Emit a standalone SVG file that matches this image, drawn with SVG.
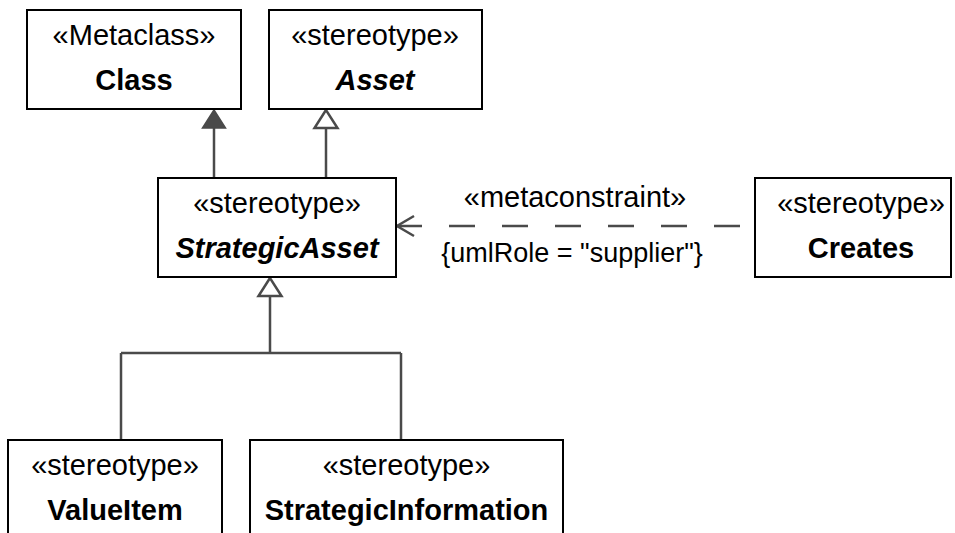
<svg xmlns="http://www.w3.org/2000/svg" width="955" height="533" viewBox="0 0 955 533">
<style>
.box{fill:#fff;stroke:#000;stroke-width:2}
.st{font-family:"Liberation Sans",Arial,sans-serif;font-size:29px;fill:#000;text-anchor:middle}
.nm{font-family:"Liberation Sans",Arial,sans-serif;font-size:29px;font-weight:bold;fill:#000;text-anchor:middle}
.ab{font-style:italic}
.lbl{font-size:27px}
.ln{fill:none;stroke:#4a4a4a;stroke-width:2.5}
.hol{fill:#fff;stroke:#4a4a4a;stroke-width:2.5;stroke-linejoin:miter}
.fil{fill:#4a4a4a;stroke:#4a4a4a;stroke-width:1.5}
</style>
<rect width="955" height="533" fill="#fff"/>
<g id="connectors">
  <path class="ln" d="M214 128 V178"/>
  <polygon class="fil" points="214,110 202.5,128 225.5,128"/>
  <path class="ln" d="M326 128 V178"/>
  <polygon class="hol" points="326,110 314.5,128 337.5,128"/>
  <path class="ln" d="M270 296 V353 M121 353 H401 M121 353 V440 M401 353 V440"/>
  <polygon class="hol" points="270,278 258.5,296 281.5,296"/>
  <path class="ln" d="M396 226 H755" stroke-dasharray="26 27"/>
  <path class="ln" d="M414 216 L397 226 L414 236"/>
  <text class="st" x="575" y="207">«metaconstraint»</text>
  <text class="st lbl" x="572" y="262">{umlRole = "supplier"}</text>
</g>
<g id="Class">
  <rect class="box" x="27" y="10" width="214" height="99"/>
  <text class="st" x="134" y="45">«Metaclass»</text>
  <text class="nm" x="134" y="90">Class</text>
</g>
<g id="Asset">
  <rect class="box" x="269" y="10" width="213" height="99"/>
  <text class="st" x="375" y="45">«stereotype»</text>
  <text class="nm ab" x="375" y="90">Asset</text>
</g>
<g id="StrategicAsset">
  <rect class="box" x="158" y="178" width="238" height="99"/>
  <text class="st" x="277" y="213">«stereotype»</text>
  <text class="nm ab" x="277" y="258">StrategicAsset</text>
</g>
<g id="Creates">
  <rect class="box" x="755" y="178" width="196" height="99"/>
  <text class="st" x="861" y="213">«stereotype»</text>
  <text class="nm" x="861" y="258">Creates</text>
</g>
<g id="ValueItem">
  <rect class="box" x="8" y="440" width="214" height="110"/>
  <text class="st" x="115" y="475">«stereotype»</text>
  <text class="nm" x="115" y="520">ValueItem</text>
</g>
<g id="StrategicInformation">
  <rect class="box" x="250" y="440" width="313" height="110"/>
  <text class="st" x="406.5" y="475">«stereotype»</text>
  <text class="nm" x="406.5" y="520">StrategicInformation</text>
</g>
</svg>
